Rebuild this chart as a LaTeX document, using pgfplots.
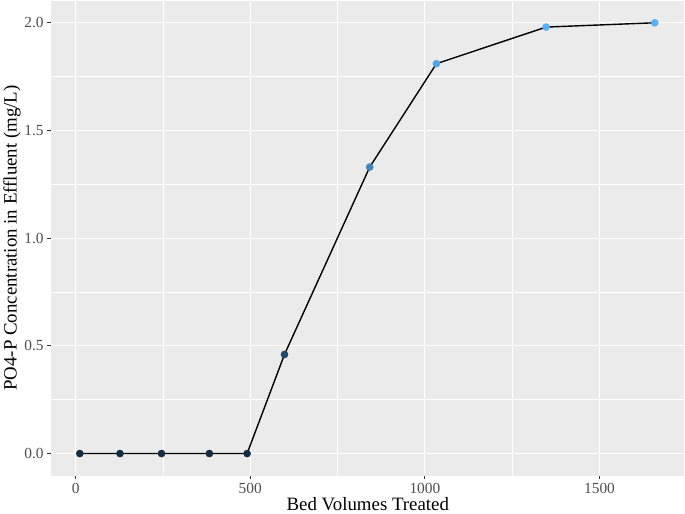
\documentclass[border=0pt]{standalone}
\usepackage{pgfplots}
\pgfplotsset{compat=1.18}
\usepackage{fontspec}
\setmainfont{Liberation Serif}
\definecolor{panel}{HTML}{EBEBEB}
\definecolor{tickgray}{HTML}{333333}
\definecolor{labgray}{HTML}{4D4D4D}
\begin{document}
\begin{tikzpicture}
\begin{axis}[
  width=636bp, height=477bp, scale only axis,
  xmin=-70, xmax=1743, ymin=-0.102, ymax=2.103,
  axis background/.style={fill=panel},
  axis line style={draw=none},
  xtick={0,500,1000,1500}, ytick={0,0.5,1,1.5,2},
  xtick pos=bottom, ytick pos=left,
  minor x tick num=1, minor y tick num=1,
  grid=both,
  major grid style={white, line width=1.2bp},
  minor grid style={white, line width=0.6bp},
  tick align=outside, major tick length=4bp, minor tick length=0pt,
  major tick style={color=tickgray, line width=0.9bp},
  /pgf/number format/assume math mode=true,
  /pgf/number format/1000 sep={},
  yticklabel style={/pgf/number format/fixed, /pgf/number format/fixed zerofill, /pgf/number format/precision=1},
  ticklabel style={font=\fontsize{15.5}{15.5}\selectfont, color=labgray},
  xlabel={Bed Volumes Treated},
  ylabel={PO4-P Concentration in Effluent (mg/L)},
  label style={font=\fontsize{19}{19}\selectfont},
  xlabel style={yshift=3bp},
  ylabel style={yshift=-3bp},
  colormap={gg}{rgb255=(19,43,67) rgb255=(86,177,247)},
  point meta min=0, point meta max=2,
]
\addplot[scatter, only marks, mark=*, mark size=3.6bp, scatter src=y,
  scatter/use mapped color={draw=mapped color, fill=mapped color}]
  coordinates {
  (12,0) (127,0) (246,0) (383,0) (491,0) (598,0.46) (842,1.33) (1033,1.81) (1347,1.98) (1658,2.0)
};
\addplot[black, line width=1.4bp, mark=none]
  coordinates {
  (12,0) (127,0) (246,0) (383,0) (491,0) (598,0.46) (842,1.33) (1033,1.81) (1347,1.98) (1658,2.0)
};
\end{axis}
\end{tikzpicture}
\end{document}
